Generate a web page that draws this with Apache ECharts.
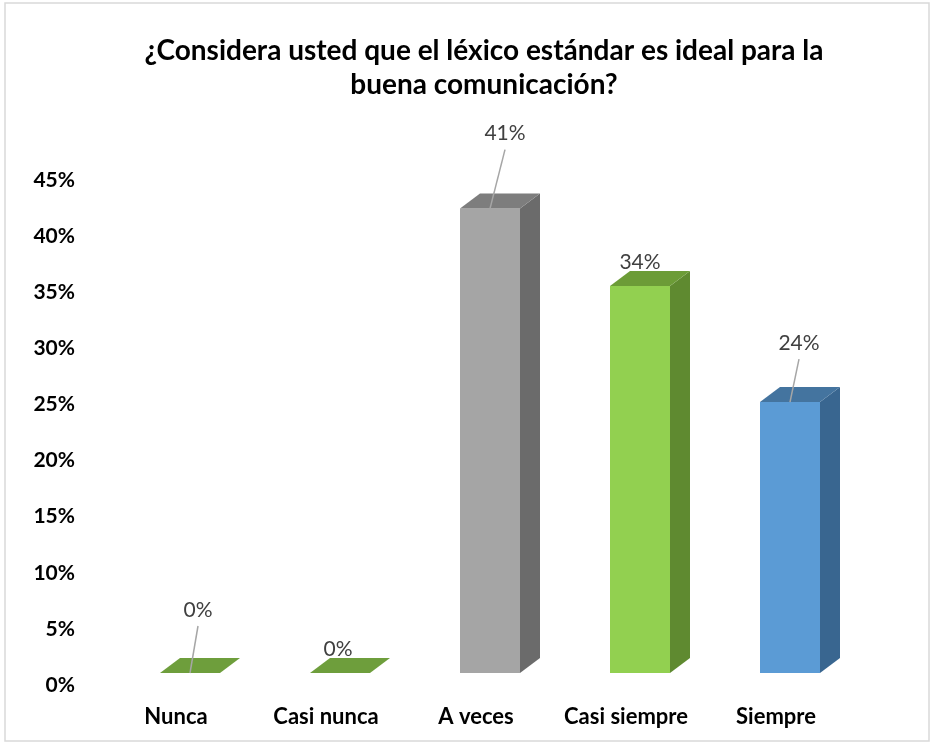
<!DOCTYPE html>
<html>
<head>
<meta charset="utf-8">
<script src="https://cdn.jsdelivr.net/npm/echarts@6/dist/echarts.min.js"></script>
<style>html,body{margin:0;padding:0;background:#fff;}#c{width:934px;height:745px;}</style>
</head>
<body>
<div id="c"></div>
<script>
const categories = ['Nunca', 'Casi nunca', 'A veces', 'Casi siempre', 'Siempre'];
const values = [0, 0, 41.38, 34.48, 24.14];
const labels = ['0%', '0%', '41%', '34%', '24%'];
const yTicks = [0, 5, 10, 15, 20, 25, 30, 35, 40, 45];

// style config (not data)
const faceColors = [
  {front: '#70a23e', side: '#557d2e', top: '#6e9e3c'},
  {front: '#70a23e', side: '#557d2e', top: '#6e9e3c'},
  {front: '#a5a5a5', side: '#6b6b6b', top: '#7d7d7d'},
  {front: '#92d050', side: '#5f8a30', top: '#6c9c37'},
  {front: '#5b9bd5', side: '#396690', top: '#44749f'}
];
const labelOffsets = [[8, -63, true], [-2, -24, false], [15, -75, true], [0, -24, false], [9, -59, true]];
const FLOOR = 12, DX = 20, DY = 15, W = 60;

const chart = echarts.init(document.getElementById('c'));
chart.setOption({
  animation: false,
  title: {
    text: '¿Considera usted que el léxico estándar es ideal para la\nbuena comunicación?',
    left: 484, top: 34, textAlign: 'center', padding: 0,
    textStyle: {fontFamily: 'Lato', fontWeight: 'bold', fontSize: 28, color: '#000', lineHeight: 34}
  },
  graphic: [{type: 'rect', shape: {x: 5, y: 3, width: 924, height: 738}, style: {fill: 'none', stroke: '#d9d9d9', lineWidth: 1.5}, silent: true, z: -1}],
  grid: {left: 115, right: 69, top: 180, bottom: 60},
  xAxis: {
    type: 'category', data: categories,
    axisLine: {show: false}, axisTick: {show: false},
    axisLabel: {interval: 0, fontFamily: 'Lato', fontWeight: 'bold', fontSize: 22, color: '#000', margin: 21, padding: [0, 28, 0, 0]}
  },
  yAxis: {
    type: 'value', min: yTicks[0], max: yTicks[yTicks.length - 1], interval: 5,
    axisLine: {show: false}, axisTick: {show: false}, splitLine: {show: false},
    axisLabel: {formatter: '{value}%', fontFamily: 'Lato', fontWeight: 'bold', fontSize: 21, color: '#000', margin: 40}
  },
  series: [{
    type: 'custom',
    data: values.map((v, i) => [i, v]),
    renderItem: function (params, api) {
      const i = api.value(0), v = api.value(1);
      const x = api.coord([i, 0])[0];
      const y0 = api.coord([i, 0])[1] - FLOOR;
      const y1 = api.coord([i, v])[1] - FLOOR;
      const c = faceColors[i];
      const l = x - W / 2, r = x + W / 2;
      const children = [];
      if (y0 - y1 > 0.5) {
        children.push({type: 'rect', shape: {x: l, y: y1, width: W, height: y0 - y1}, style: {fill: c.front}});
        children.push({type: 'polygon', shape: {points: [[r, y1], [r + DX, y1 - DY], [r + DX, y0 - DY], [r, y0]]}, style: {fill: c.side}});
      }
      children.push({type: 'polygon', shape: {points: [[l, y1], [l + DX, y1 - DY], [r + DX, y1 - DY], [r, y1]]}, style: {fill: c.top}});
      const off = labelOffsets[i];
      const lx = x + off[0], ly = y1 + off[1];
      if (off[2]) {
        children.push({type: 'line', shape: {x1: lx, y1: ly + 16, x2: x, y2: y1}, style: {stroke: '#a6a6a6', lineWidth: 1.5}});
      }
      children.push({type: 'text', x: lx, y: ly, style: {text: labels[i], fill: '#404040', font: '21px Lato', align: 'center', verticalAlign: 'middle'}});
      return {type: 'group', children: children};
    }
  }]
});
</script>
</body>
</html>
